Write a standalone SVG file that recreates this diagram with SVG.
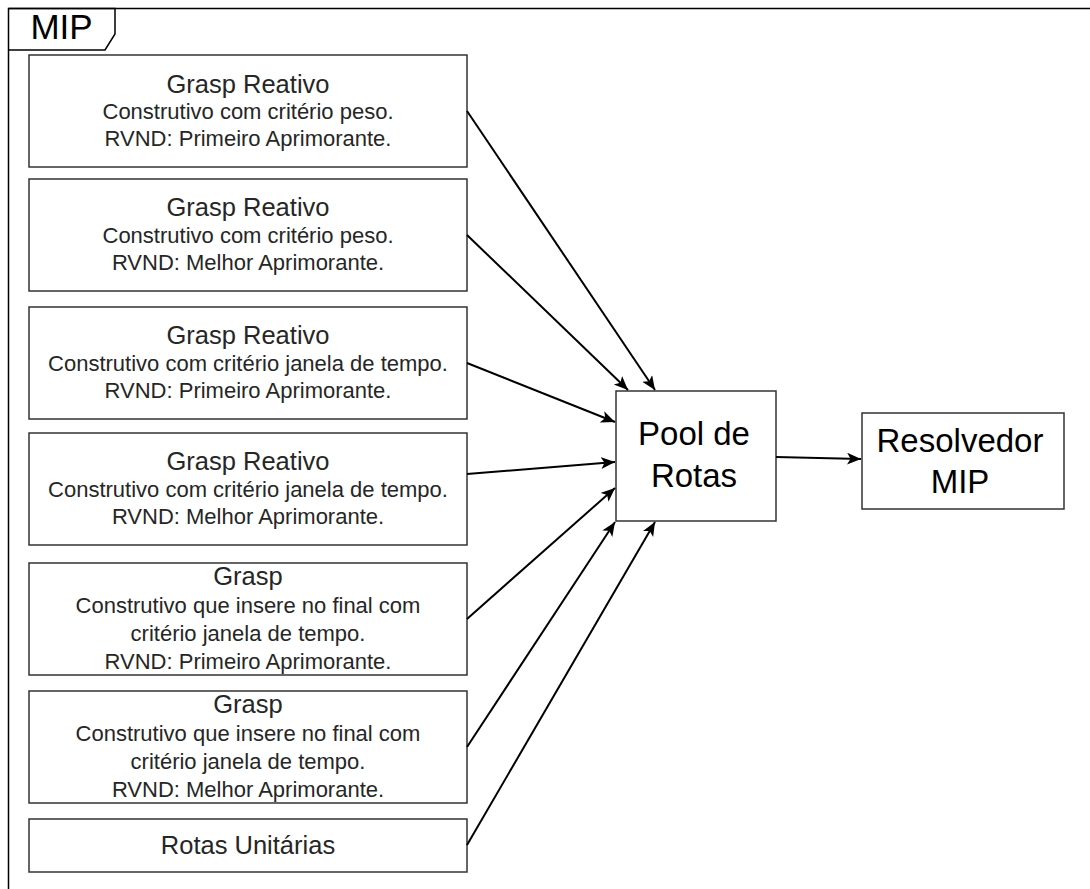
<svg xmlns="http://www.w3.org/2000/svg" width="1090" height="889" viewBox="0 0 1090 889">
  <style>
    .box { fill: #ffffff; stroke: #333333; stroke-width: 1.5; }
    .frame { fill: none; stroke: #000000; stroke-width: 1.5; }
    .txt { font-family: "Liberation Sans", Arial, sans-serif; fill: #262626; text-anchor: middle; }
    .title { font-size: 25.5px; }
    .body { font-size: 22px; }
    .big { font-size: 33px; fill: #000000; }
    .edge { fill: none; stroke: #000000; stroke-width: 2; marker-end: url(#arrow); }
  </style>
  <defs>
    <marker id="arrow" markerUnits="userSpaceOnUse" markerWidth="16" markerHeight="14" refX="14" refY="6" orient="auto">
      <path d="M0,0 L14,6 L0,12 L3.5,6 z" fill="#000000"/>
    </marker>
  </defs>

  <rect width="1090" height="889" fill="#ffffff"/>

  <!-- outer frame with its label tab -->
  <g id="frame-mip">
    <path class="frame" d="M8.5,889 V8.5 H1090"/>
    <path class="frame" d="M8.5,8.5 H115 V34 L105,50 H8.5"/>
    <text class="txt big" x="61.5" y="39" style="font-size:35px">MIP</text>
  </g>

  <g id="grasp-reativo-peso-primeiro">
    <rect class="box" x="29" y="55" width="438" height="112"/>
    <text class="txt title" x="248" y="93">Grasp Reativo</text>
    <text class="txt body" x="248" y="119">Construtivo com critério peso.</text>
    <text class="txt body" x="248" y="146">RVND: Primeiro Aprimorante.</text>
  </g>

  <g id="grasp-reativo-peso-melhor">
    <rect class="box" x="29" y="179" width="438" height="112"/>
    <text class="txt title" x="248" y="216">Grasp Reativo</text>
    <text class="txt body" x="248" y="243">Construtivo com critério peso.</text>
    <text class="txt body" x="248" y="270">RVND: Melhor Aprimorante.</text>
  </g>

  <g id="grasp-reativo-janela-primeiro">
    <rect class="box" x="29" y="307" width="438" height="112"/>
    <text class="txt title" x="248" y="344">Grasp Reativo</text>
    <text class="txt body" x="248" y="371">Construtivo com critério janela de tempo.</text>
    <text class="txt body" x="248" y="398">RVND: Primeiro Aprimorante.</text>
  </g>

  <g id="grasp-reativo-janela-melhor">
    <rect class="box" x="29" y="433" width="438" height="112"/>
    <text class="txt title" x="248" y="470">Grasp Reativo</text>
    <text class="txt body" x="248" y="497">Construtivo com critério janela de tempo.</text>
    <text class="txt body" x="248" y="524">RVND: Melhor Aprimorante.</text>
  </g>

  <g id="grasp-final-primeiro">
    <rect class="box" x="29" y="563" width="438" height="112"/>
    <text class="txt title" x="248" y="585">Grasp</text>
    <text class="txt body" x="248" y="613">Construtivo que insere no final com</text>
    <text class="txt body" x="248" y="641">critério janela de tempo.</text>
    <text class="txt body" x="248" y="669">RVND: Primeiro Aprimorante.</text>
  </g>

  <g id="grasp-final-melhor">
    <rect class="box" x="29" y="691" width="438" height="112"/>
    <text class="txt title" x="248" y="713">Grasp</text>
    <text class="txt body" x="248" y="741">Construtivo que insere no final com</text>
    <text class="txt body" x="248" y="769">critério janela de tempo.</text>
    <text class="txt body" x="248" y="797">RVND: Melhor Aprimorante.</text>
  </g>

  <g id="rotas-unitarias">
    <rect class="box" x="29" y="819" width="438" height="53"/>
    <text class="txt title" x="248" y="854">Rotas Unitárias</text>
  </g>

  <g id="pool-de-rotas">
    <rect class="box" x="616" y="391" width="160" height="130"/>
    <text class="txt big" x="694" y="445">Pool de</text>
    <text class="txt big" x="694" y="487">Rotas</text>
  </g>

  <g id="resolvedor-mip">
    <rect class="box" x="862" y="413" width="202" height="96"/>
    <text class="txt big" x="960" y="452">Resolvedor</text>
    <text class="txt big" x="960" y="493">MIP</text>
  </g>

  <!-- connectors -->
  <g id="connectors">
    <line class="edge" x1="467" y1="111" x2="655" y2="390"/>
    <line class="edge" x1="467" y1="235" x2="628" y2="390"/>
    <line class="edge" x1="467" y1="363" x2="615" y2="422"/>
    <line class="edge" x1="467" y1="474" x2="615" y2="462"/>
    <line class="edge" x1="467" y1="619" x2="615" y2="488"/>
    <line class="edge" x1="467" y1="747" x2="615" y2="522"/>
    <line class="edge" x1="467" y1="845" x2="655" y2="522"/>
    <line class="edge" x1="776" y1="457" x2="861" y2="459"/>
  </g>
</svg>
